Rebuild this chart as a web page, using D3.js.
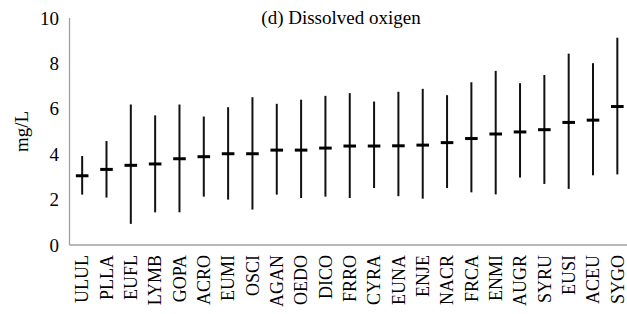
<!DOCTYPE html>
<html>
<head>
<meta charset="utf-8">
<script src="https://cdn.jsdelivr.net/npm/d3@7"></script>
<style>
  html, body { margin: 0; padding: 0; background: #fff; }
  svg { display: block; }
  svg text { font-family: "Liberation Serif", Tinos, "Times New Roman", Times, "DejaVu Serif", serif !important; fill: #000; }
</style>
</head>
<body>
<svg id="chart" width="627" height="314"></svg>
<script>
const categories = ["ULUL","PLLA","EUFL","LYMB","GOPA","ACRO","EUMI","OSCI","AGAN","OEDO","DICO","FRRO","CYRA","EUNA","ENJE","NACR","FRCA","ENMI","AUGR","SYRU","EUSI","ACEU","SYGO"];
const meanValues = [3.05,3.33,3.51,3.57,3.80,3.89,4.02,4.02,4.18,4.18,4.27,4.36,4.36,4.37,4.40,4.51,4.69,4.89,4.98,5.08,5.40,5.50,6.10];
const maxValues  = [3.92,4.58,6.19,5.71,6.19,5.66,6.07,6.51,6.22,6.40,6.57,6.69,6.32,6.75,6.88,6.60,7.17,7.67,7.13,7.49,8.43,8.01,9.13];
const minValues  = [2.22,2.09,0.93,1.44,1.44,2.13,2.00,1.56,2.22,2.07,2.13,2.07,2.51,2.15,2.04,2.51,2.32,2.23,2.97,2.69,2.47,3.07,3.11];
const yTicks = [0,2,4,6,8,10];
const titleText = "(d) Dissolved oxigen";
const yLabel = "mg/L";

const data = categories.map((c,i)=>({cat:c, mean:meanValues[i], max:maxValues[i], min:minValues[i]}));

const svg = d3.select("#chart");
const margin = {left:70, right:-2.5, top:18, bottom:69};
const W = 627, H = 314;

const x = d3.scaleBand().domain(categories).range([margin.left, W - margin.right]).padding(0);
const y = d3.scaleLinear().domain([0,10]).range([H - margin.bottom, margin.top]);

// axes lines
svg.append("line").attr("x1", margin.left-0.5).attr("x2", margin.left-0.5)
  .attr("y1", y(10)).attr("y2", y(0)).attr("stroke", "#a0a0a0").attr("stroke-width", 1.3);
svg.append("line").attr("x1", margin.left-0.5).attr("x2", W)
  .attr("y1", y(0)).attr("y2", y(0)).attr("stroke", "#a0a0a0").attr("stroke-width", 1.3);

// y tick labels
const yAxis = d3.axisLeft(y).tickValues(yTicks).tickSize(0).tickPadding(11).tickFormat(d3.format("d"));
const gy = svg.append("g").attr("transform", `translate(${margin.left},0)`).call(yAxis);
gy.attr("font-family", null).attr("font-size", null);
gy.select(".domain").remove();
gy.selectAll("text").style("font-size", "19px").attr("fill", "#000");

// x labels
const xAxis = d3.axisBottom(x).tickSize(0).tickPadding(0);
const gx = svg.append("g").attr("transform", `translate(0,${y(0)})`).call(xAxis);
gx.attr("font-family", null).attr("font-size", null);
gx.select(".domain").remove();
gx.selectAll("text")
  .style("font-size", "18px").attr("fill", "#000")
  .attr("transform", "rotate(-90)")
  .attr("x", -10).attr("y", 0).attr("dy", "0.35em")
  .attr("text-anchor", "end");

// error bars
const g = svg.append("g");
g.selectAll("line.range").data(data).join("line").attr("class","range")
  .attr("x1", d => x(d.cat) + x.bandwidth()/2).attr("x2", d => x(d.cat) + x.bandwidth()/2)
  .attr("y1", d => y(d.max)).attr("y2", d => y(d.min))
  .attr("stroke", "#111").attr("stroke-width", 2);
g.selectAll("line.mean").data(data).join("line").attr("class","mean")
  .attr("x1", d => x(d.cat) + x.bandwidth()/2 - 6.3).attr("x2", d => x(d.cat) + x.bandwidth()/2 + 6.3)
  .attr("y1", d => y(d.mean)).attr("y2", d => y(d.mean))
  .attr("stroke", "#000").attr("stroke-width", 3);

// title
svg.append("text").attr("x", 341).attr("y", 24).attr("text-anchor", "middle")
  .style("font-size", "19px").text(titleText);

// y label
svg.append("text").attr("transform", `translate(28,${(y(0)+y(10))/2}) rotate(-90)`)
  .attr("text-anchor", "middle").style("font-size", "19px").text(yLabel);
</script>
</body>
</html>
